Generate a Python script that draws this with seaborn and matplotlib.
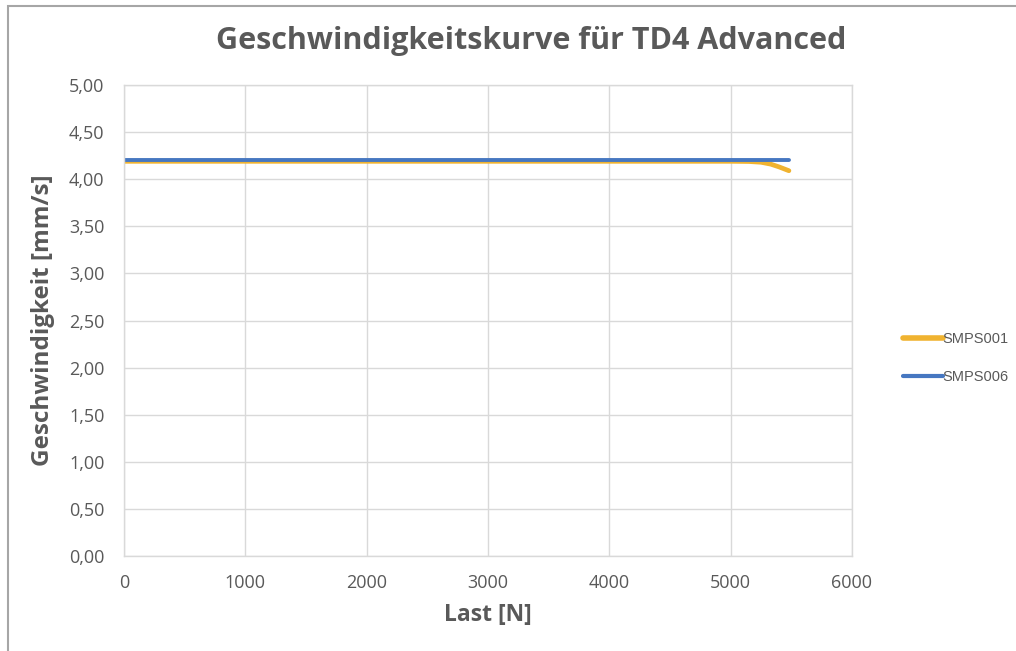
import numpy as np
import pandas as pd
import matplotlib
matplotlib.use('Agg')
import matplotlib.pyplot as plt
from matplotlib.ticker import FuncFormatter, MultipleLocator
from matplotlib.patches import Rectangle
from matplotlib.lines import Line2D
import seaborn as sns

# Daten
serien = ['SMPS001', 'SMPS006']
last_001 = [0, 1000, 2000, 3000, 4000, 5000, 5150, 5250, 5330, 5400, 5480]
geschw_001 = [4.19, 4.19, 4.19, 4.19, 4.19, 4.19, 4.188, 4.18, 4.16, 4.13, 4.09]
last_006 = [0, 1000, 2000, 3000, 4000, 5000, 5480]
geschw_006 = [4.20, 4.20, 4.20, 4.20, 4.20, 4.20, 4.20]
farben = ['#F0B330', '#4677C1']

df = pd.concat([
    pd.DataFrame({'Last': last_001, 'Geschw': geschw_001, 'Serie': serien[0]}),
    pd.DataFrame({'Last': last_006, 'Geschw': geschw_006, 'Serie': serien[1]}),
])

sns.set_theme(style='white')
plt.rcParams['font.family'] = ['Open Sans', 'DejaVu Sans']
grau = '#595959'
gitter = '#D9D9D9'

fig = plt.figure(figsize=(10.16, 6.51), dpi=100)
ax = fig.add_axes([124 / 1016, 95 / 651, 728 / 1016, 471 / 651])

# Rahmen um das Diagramm
fig.patches.append(Rectangle((8 / 1016, -0.1), 1.2, (645 / 651) + 0.1,
                             transform=fig.transFigure, fill=False,
                             edgecolor='#A6A6A6', linewidth=1.5))

sns.lineplot(data=df, x='Last', y='Geschw', hue='Serie', palette=farben,
             ax=ax, linewidth=3.4, legend=False, sort=False)
ax.lines[1].set_linewidth(2.8)

ax.set_xlim(0, 6000)
ax.set_ylim(0, 5)
ax.xaxis.set_major_locator(MultipleLocator(1000))
ax.yaxis.set_major_locator(MultipleLocator(0.5))
ax.yaxis.set_major_formatter(FuncFormatter(lambda v, p: f'{v:.2f}'.replace('.', ',')))
ax.grid(True, color=gitter, linewidth=1)
ax.set_axisbelow(True)
for s in ax.spines.values():
    s.set_color(gitter)
    s.set_linewidth(1)
ax.tick_params(axis='both', length=0, colors=grau, labelsize=13)
ax.tick_params(axis='x', pad=13)
ax.tick_params(axis='y', pad=14)

ax.set_xlabel('Last [N]', fontsize=16.5, fontweight='bold', color=grau, labelpad=8)
ax.set_ylabel('Geschwindigkeit [mm/s]', fontsize=17.5, fontweight='bold', color=grau, labelpad=10)
fig.text(531 / 1016, 1 - 41 / 651, 'Geschwindigkeitskurve für TD4 Advanced',
         ha='center', va='center', fontsize=22, fontweight='bold', color=grau)

# Legende
griffe = [Line2D([], [], color=farben[0], linewidth=4),
          Line2D([], [], color=farben[1], linewidth=3)]
leg = fig.legend(griffe, serien, loc='center left',
                 bbox_to_anchor=(890 / 1016, 1 - 358 / 651), frameon=False,
                 handlelength=2.7, handletextpad=0.0, labelspacing=1.6,
                 prop={'family': 'Liberation Sans', 'size': 10.5})
for t in leg.get_texts():
    t.set_color(grau)

fig.savefig('out.png', dpi=100, facecolor='white')
